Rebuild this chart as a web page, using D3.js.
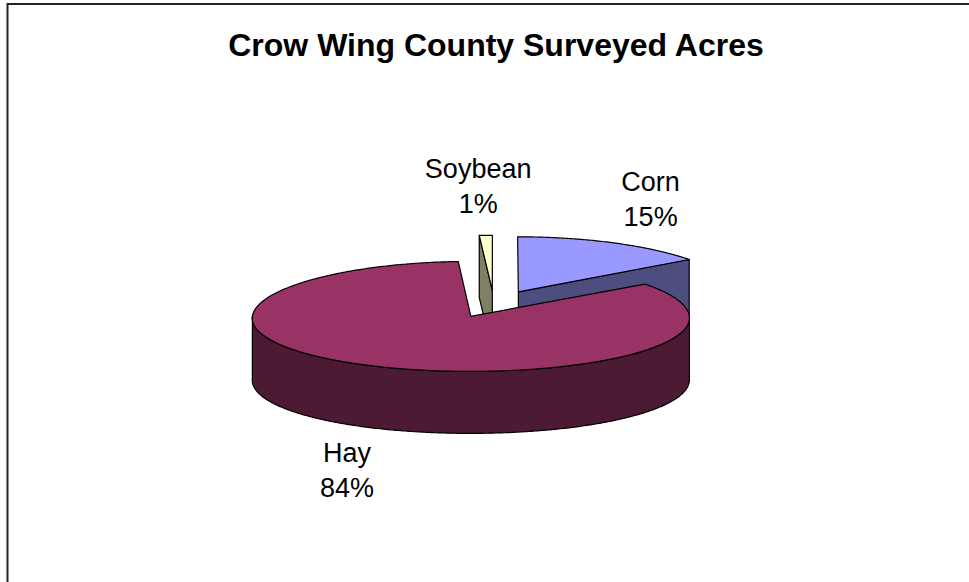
<!DOCTYPE html>
<html>
<head>
<meta charset="utf-8">
<script src="https://cdn.jsdelivr.net/npm/d3@7"></script>
<style>
  body { margin: 0; background: #fff; }
  text { font-family: Arial, "Liberation Sans", sans-serif; fill: #000; }
</style>
</head>
<body>
<script>
// chart data
var categories = ["Corn", "Hay", "Soybean"];
var values = [15, 84, 1];
var percentLabels = ["15%", "84%", "1%"];
var topColors = ["#9999FF", "#993366", "#FFFFCC"];

var width = 969, height = 582;
var cx = 494, cy = 304;      // pie center
var rx = 217, ry = 55;       // ellipse radii of the tilted pie
var depth = 62;              // thickness
var explode = 54;            // slice offset along bisector
var persp = 0.03;            // things at the back get a bit narrower
var labelRx = 345, labelRy = 118;

var svg = d3.select("body").append("svg")
  .attr("width", width)
  .attr("height", height);

// outer frame (right/bottom run off the page)
svg.append("rect")
  .attr("x", 7.5).attr("y", 4)
  .attr("width", 1100).attr("height", 800)
  .attr("fill", "none")
  .attr("stroke", "#222")
  .attr("stroke-width", 2);

svg.append("text")
  .attr("x", 496).attr("y", 56)
  .attr("text-anchor", "middle")
  .style("font-size", "32px")
  .style("font-weight", "bold")
  .text("Crow Wing County Surveyed Acres");

var pie = d3.pie().sort(null).value(function(d){ return d; });
var arcs = pie(values);

var darker = function(c){
  var r = d3.rgb(c);
  return d3.rgb(r.r * 0.5, r.g * 0.5, r.b * 0.5).toString();
};

// project a point of the pie plane (px right, pz towards the back) to the screen
var project = function(px, pz, z){
  return [cx + px * (1 - persp * pz / rx), cy - pz * ry / rx + z];
};

var line = d3.line();

var slices = arcs.map(function(d, i){
  var mid = (d.startAngle + d.endAngle) / 2;
  return {
    i: i,
    a0: d.startAngle,
    a1: d.endAngle,
    mid: mid,
    dx: explode * Math.sin(mid),
    dz: explode * Math.cos(mid)
  };
});

// rim point, angle clockwise from 12 o'clock (r = 0 gives the apex)
var pt = function(s, a, z, r){
  r = r === undefined ? 1 : r;
  return project(s.dx + rx * r * Math.sin(a), s.dz + rx * r * Math.cos(a), z);
};

var rimPoints = function(s, a0, a1, z){
  var n = Math.max(2, Math.ceil((a1 - a0) / 0.01));
  return d3.range(n + 1).map(function(k){
    return pt(s, a0 + (a1 - a0) * k / n, z);
  });
};

var drawSlice = function(s){
  var g = svg.append("g");
  var top = topColors[s.i], side = darker(top);
  var apex = pt(s, 0, 0, 0);
  var apexB = pt(s, 0, depth, 0);

  // radial side faces that face the viewer
  if (Math.cos(s.a1) > 0 && Math.sin(s.a1) > 0.05) {
    g.append("path")
      .attr("d", line([apex, pt(s, s.a1, 0), pt(s, s.a1, depth), apexB]) + "Z")
      .attr("fill", side).attr("stroke", "#000").attr("stroke-width", 1.2);
  }
  if (s.a0 > Math.PI * 1.9 && s.dx > -5) {
    g.append("path")
      .attr("d", line([apex, pt(s, s.a0, 0), pt(s, s.a0, depth), apexB]) + "Z")
      .attr("fill", side).attr("stroke", "#000").attr("stroke-width", 1.2);
  }

  // outer curved wall, front half only
  var f0 = Math.max(s.a0, Math.PI / 2), f1 = Math.min(s.a1, Math.PI * 1.5);
  if (f1 > f0) {
    var topRim = rimPoints(s, f0, f1, 0);
    var botRim = rimPoints(s, f0, f1, depth).reverse();
    g.append("path")
      .attr("d", line(topRim.concat(botRim)) + "Z")
      .attr("fill", side).attr("stroke", "#000").attr("stroke-width", 1.2);
  }

  // top face
  g.append("path")
    .attr("d", line([apex].concat(rimPoints(s, s.a0, s.a1, 0))) + "Z")
    .attr("fill", top).attr("stroke", "#000").attr("stroke-width", 1.2)
    .attr("stroke-linejoin", "round");
};

// painter's order: back slices first, big front slice last
[2, 0, 1].forEach(function(i){ drawSlice(slices[i]); });

// labels (the thin soybean label sits a little left, clear of corn's)
slices.forEach(function(s){
  var lx = cx + labelRx * Math.sin(s.mid) - (s.a1 - s.a0 < 0.1 ? 5 : 0);
  var ly = cy - labelRy * Math.cos(s.mid) + (Math.cos(s.mid) < 0 ? depth - 3 : 0);
  var t = svg.append("text")
    .attr("text-anchor", "middle")
    .style("font-size", "27px");
  t.append("tspan").attr("x", lx).attr("y", ly - 8).text(categories[s.i]);
  t.append("tspan").attr("x", lx).attr("y", ly + 27).text(percentLabels[s.i]);
});
</script>
</body>
</html>
